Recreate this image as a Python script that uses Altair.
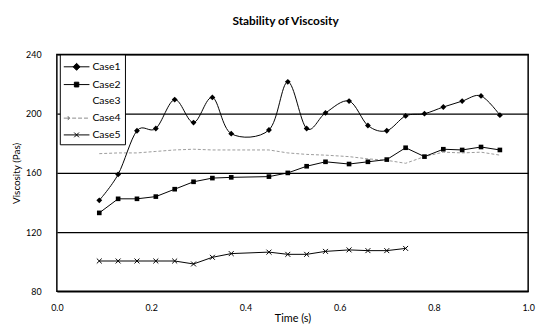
import altair as alt
import pandas as pd

# ---- data ----
T = [0.09, 0.13, 0.17, 0.21, 0.25, 0.29, 0.33, 0.37, 0.45, 0.49, 0.53,
     0.57, 0.62, 0.66, 0.70, 0.74, 0.78, 0.82, 0.86, 0.90, 0.94]
case1 = [141.5, 159, 188.5, 190, 209.5, 194, 211, 186.5, 189, 221.5, 190,
         200.5, 208.5, 192, 188.5, 198.5, 200, 204.5, 208.5, 212, 199]
case2 = [133, 142.5, 142.5, 144, 149, 154, 156.5, 157, 157.5, 160, 164.5,
         167.5, 166, 167.5, 169, 177, 171, 176, 175.5, 177.5, 175.5]
case4 = [173, 173.5, 173.5, 174.5, 175.5, 176, 175.5, 175.5, 175.5, 173.5, 172.5,
         172, 171, 169.5, 168.5, 166.5, 171, 174, 173.5, 174, 172]
T5 = [0.09, 0.13, 0.17, 0.21, 0.25, 0.29, 0.33, 0.37, 0.45, 0.49, 0.53,
      0.57, 0.62, 0.66, 0.70, 0.74]
case5 = [100.5, 100.5, 100.5, 100.5, 100.5, 98.5, 103, 105.5, 106.5, 105, 105,
         107, 108, 107.5, 107.5, 109]

cases = ["Case1", "Case2", "Case3", "Case4", "Case5"]
x_ticks = [0.0, 0.2, 0.4, 0.6, 0.8, 1.0]
y_ticks = [80, 120, 160, 200, 240]

df1 = pd.DataFrame({"t": T, "v": case1})
df2 = pd.DataFrame({"t": T, "v": case2})
df4 = pd.DataFrame({"t": T, "v": case4})
df5 = pd.DataFrame({"t": T5, "v": case5})
df_leg = pd.DataFrame({"Case": cases})

FONT = "Lato"

X = alt.X("t:Q", scale=alt.Scale(domain=[0, 1], nice=False),
          axis=alt.Axis(values=x_ticks, format=".1f", labelFontSize=9, labelPadding=12,
                        labelFlush=False, ticks=False, domain=False, grid=False,
                        title="Time (s)", titleFontSize=11, titleFontWeight="normal",
                        titleY=31, titleBaseline="alphabetic", labelColor="black",
                        titleColor="black"))
Y = alt.Y("v:Q", scale=alt.Scale(domain=[80, 240], nice=False),
          axis=alt.Axis(values=y_ticks, format="d", labelFontSize=9, labelPadding=16,
                        ticks=False, domain=False, grid=True, gridColor="black",
                        gridWidth=1.3, gridOpacity=1, title="Viscosity (Pas)",
                        titleFontSize=10, titleFontWeight="normal", titleX=-36,
                        titleY=120, labelColor="black", titleColor="black"))

line1 = alt.Chart(df1).mark_line(interpolate="cardinal", color="black", strokeWidth=1).encode(x=X, y=Y)
pts1 = alt.Chart(df1).mark_point(shape="diamond", filled=True, color="black", size=35, opacity=1).encode(x=X, y=Y)
line2 = alt.Chart(df2).mark_line(color="black", strokeWidth=1).encode(x=X, y=Y)
pts2 = alt.Chart(df2).mark_point(shape="square", filled=True, color="black", size=22, opacity=1).encode(x=X, y=Y)
line4 = alt.Chart(df4).mark_line(color="#9a9a9a", strokeWidth=1, strokeDash=[3, 2]).encode(x=X, y=Y)
line5 = alt.Chart(df5).mark_line(color="black", strokeWidth=1).encode(x=X, y=Y)
pts5 = alt.Chart(df5).mark_point(shape="M-1,-1L1,1M-1,1L1,-1", filled=False, color="black",
                                 strokeWidth=1, size=25, opacity=1).encode(x=X, y=Y)

leg_paths = [
    "M-1.06,0H2.19M0.56,-0.44L1.0,0L0.56,0.44L0.12,0Z",
    "M-1.06,0H2.19M0.28,-0.3H0.84V0.3H0.28Z",
    "M0,0",
    "M-1.06,0H-0.3M-0.55,-0.25L-0.3,0L-0.55,0.25M0.0,0H0.5M0.75,0H1.25M1.5,0H2.0",
    "M-1.06,0H2.19M0.26,-0.3L0.86,0.3M0.26,0.3L0.86,-0.3",
]
leg_fill = ["black", "black", "white", "#8a8a8a", "black"]
leg = alt.Legend(orient="none", legendX=3, legendY=0, title=None, strokeColor="black",
                 fillColor="white", padding=4, symbolSize=256, symbolStrokeWidth=1,
                 labelFontSize=10.5, labelOffset=12, rowPadding=3, labelColor="black",
                 symbolOpacity=1)
legend_layer = alt.Chart(df_leg).mark_point(filled=True, opacity=0).encode(
    x=alt.value(0), y=alt.value(0),
    shape=alt.Shape("Case:N", scale=alt.Scale(domain=cases, range=leg_paths), legend=leg),
    fill=alt.Fill("Case:N", scale=alt.Scale(domain=cases, range=leg_fill), legend=leg),
    stroke=alt.Stroke("Case:N", scale=alt.Scale(domain=cases, range=leg_fill), legend=leg),
)

chart = alt.layer(line4, line2, line5, line1, pts2, pts5, pts1, legend_layer).properties(
    width=477.5, height=240,
    title=alt.TitleParams("Stability of Viscosity", font=FONT, fontSize=12, fontWeight="bold",
                          anchor="middle", dx=-7, offset=11, baseline="bottom", color="black"),
    autosize=alt.AutoSizeParams(type="none"),
    padding={"left": 49.5, "top": 45, "right": 12, "bottom": 31},
).configure(font=FONT).configure_view(stroke="black", strokeWidth=1.5)

chart.save("out.html", embed_options={"renderer": "svg", "actions": False})
